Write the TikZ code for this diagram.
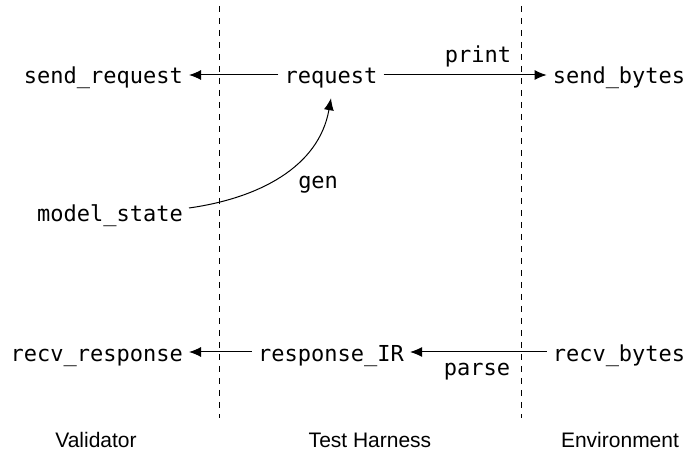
\documentclass[tikz,border=0pt]{standalone}
\usepackage{fontspec}
\newfontfamily\codefont{DejaVu Sans Mono}
\newfontfamily\lanefont{Liberation Sans}
\usetikzlibrary{arrows.meta}

\tikzset{
	code/.style={font=\codefont\fontsize{22}{26}\selectfont, inner xsep=6pt, inner ysep=9pt, text height=23pt, text depth=5pt},
	edgelabel/.style={font=\codefont\fontsize{22}{26}\selectfont, inner sep=0pt},
	lane/.style={font=\lanefont\fontsize{21}{25}\selectfont, inner sep=0pt},
	flow/.style={-{Latex[length=12pt,width=10pt]}, line width=1pt},
	divider/.style={dash pattern=on 6pt off 6pt, line width=1pt}
}

\begin{document}
\begin{tikzpicture}[x=1pt,y=1pt]
		
		\useasboundingbox (0,0) rectangle (686,453);
		
		%Lane dividers
		\draw[divider] (219,447) -- (219,35);
		
		\draw[divider] (521,447) -- (521,35);
		
		%Top row
		\node[code, anchor=base east] (sendreq) at (189,369) {send\_request};
		\node[code, anchor=base] (req) at (331,369) {request};
		\node[code, anchor=base] (sendbytes) at (619,369) {send\_bytes};
		
		%Model state
		\node[code, anchor=base east] (model) at (189,231) {model\_state};
		
		%Bottom row
		\node[code, anchor=base east] (recvresp) at (189,92) {recv\_response};
		\node[code, anchor=base] (respir) at (331,92) {response\_IR};
		\node[code, anchor=base] (recvbytes) at (619,92) {recv\_bytes};
		
		%Lane names
		\node[lane, anchor=base] (validator) at (96,6) {Validator};
		\node[lane, anchor=base] (harness) at (370,6) {Test Harness};
		\node[lane, anchor=base] (environment) at (620,6) {Environment};
		
		%Connectors
		\draw[flow] (req) -- (sendreq);
		
		\draw[flow] (req) -- (sendbytes) node[edgelabel, pos=.58, above=7pt] {print};
		
		\draw[flow] ([yshift=5pt]model.east) to[out=8, in=-100] node[edgelabel, pos=.6, anchor=north west, xshift=2pt, yshift=-12pt] {gen} (req.south);
		
		\draw[flow] (recvbytes) -- (respir) node[edgelabel, pos=.51, below=11pt] {parse};
		
		\draw[flow] (respir) -- (recvresp);
		
\end{tikzpicture}
\end{document}
